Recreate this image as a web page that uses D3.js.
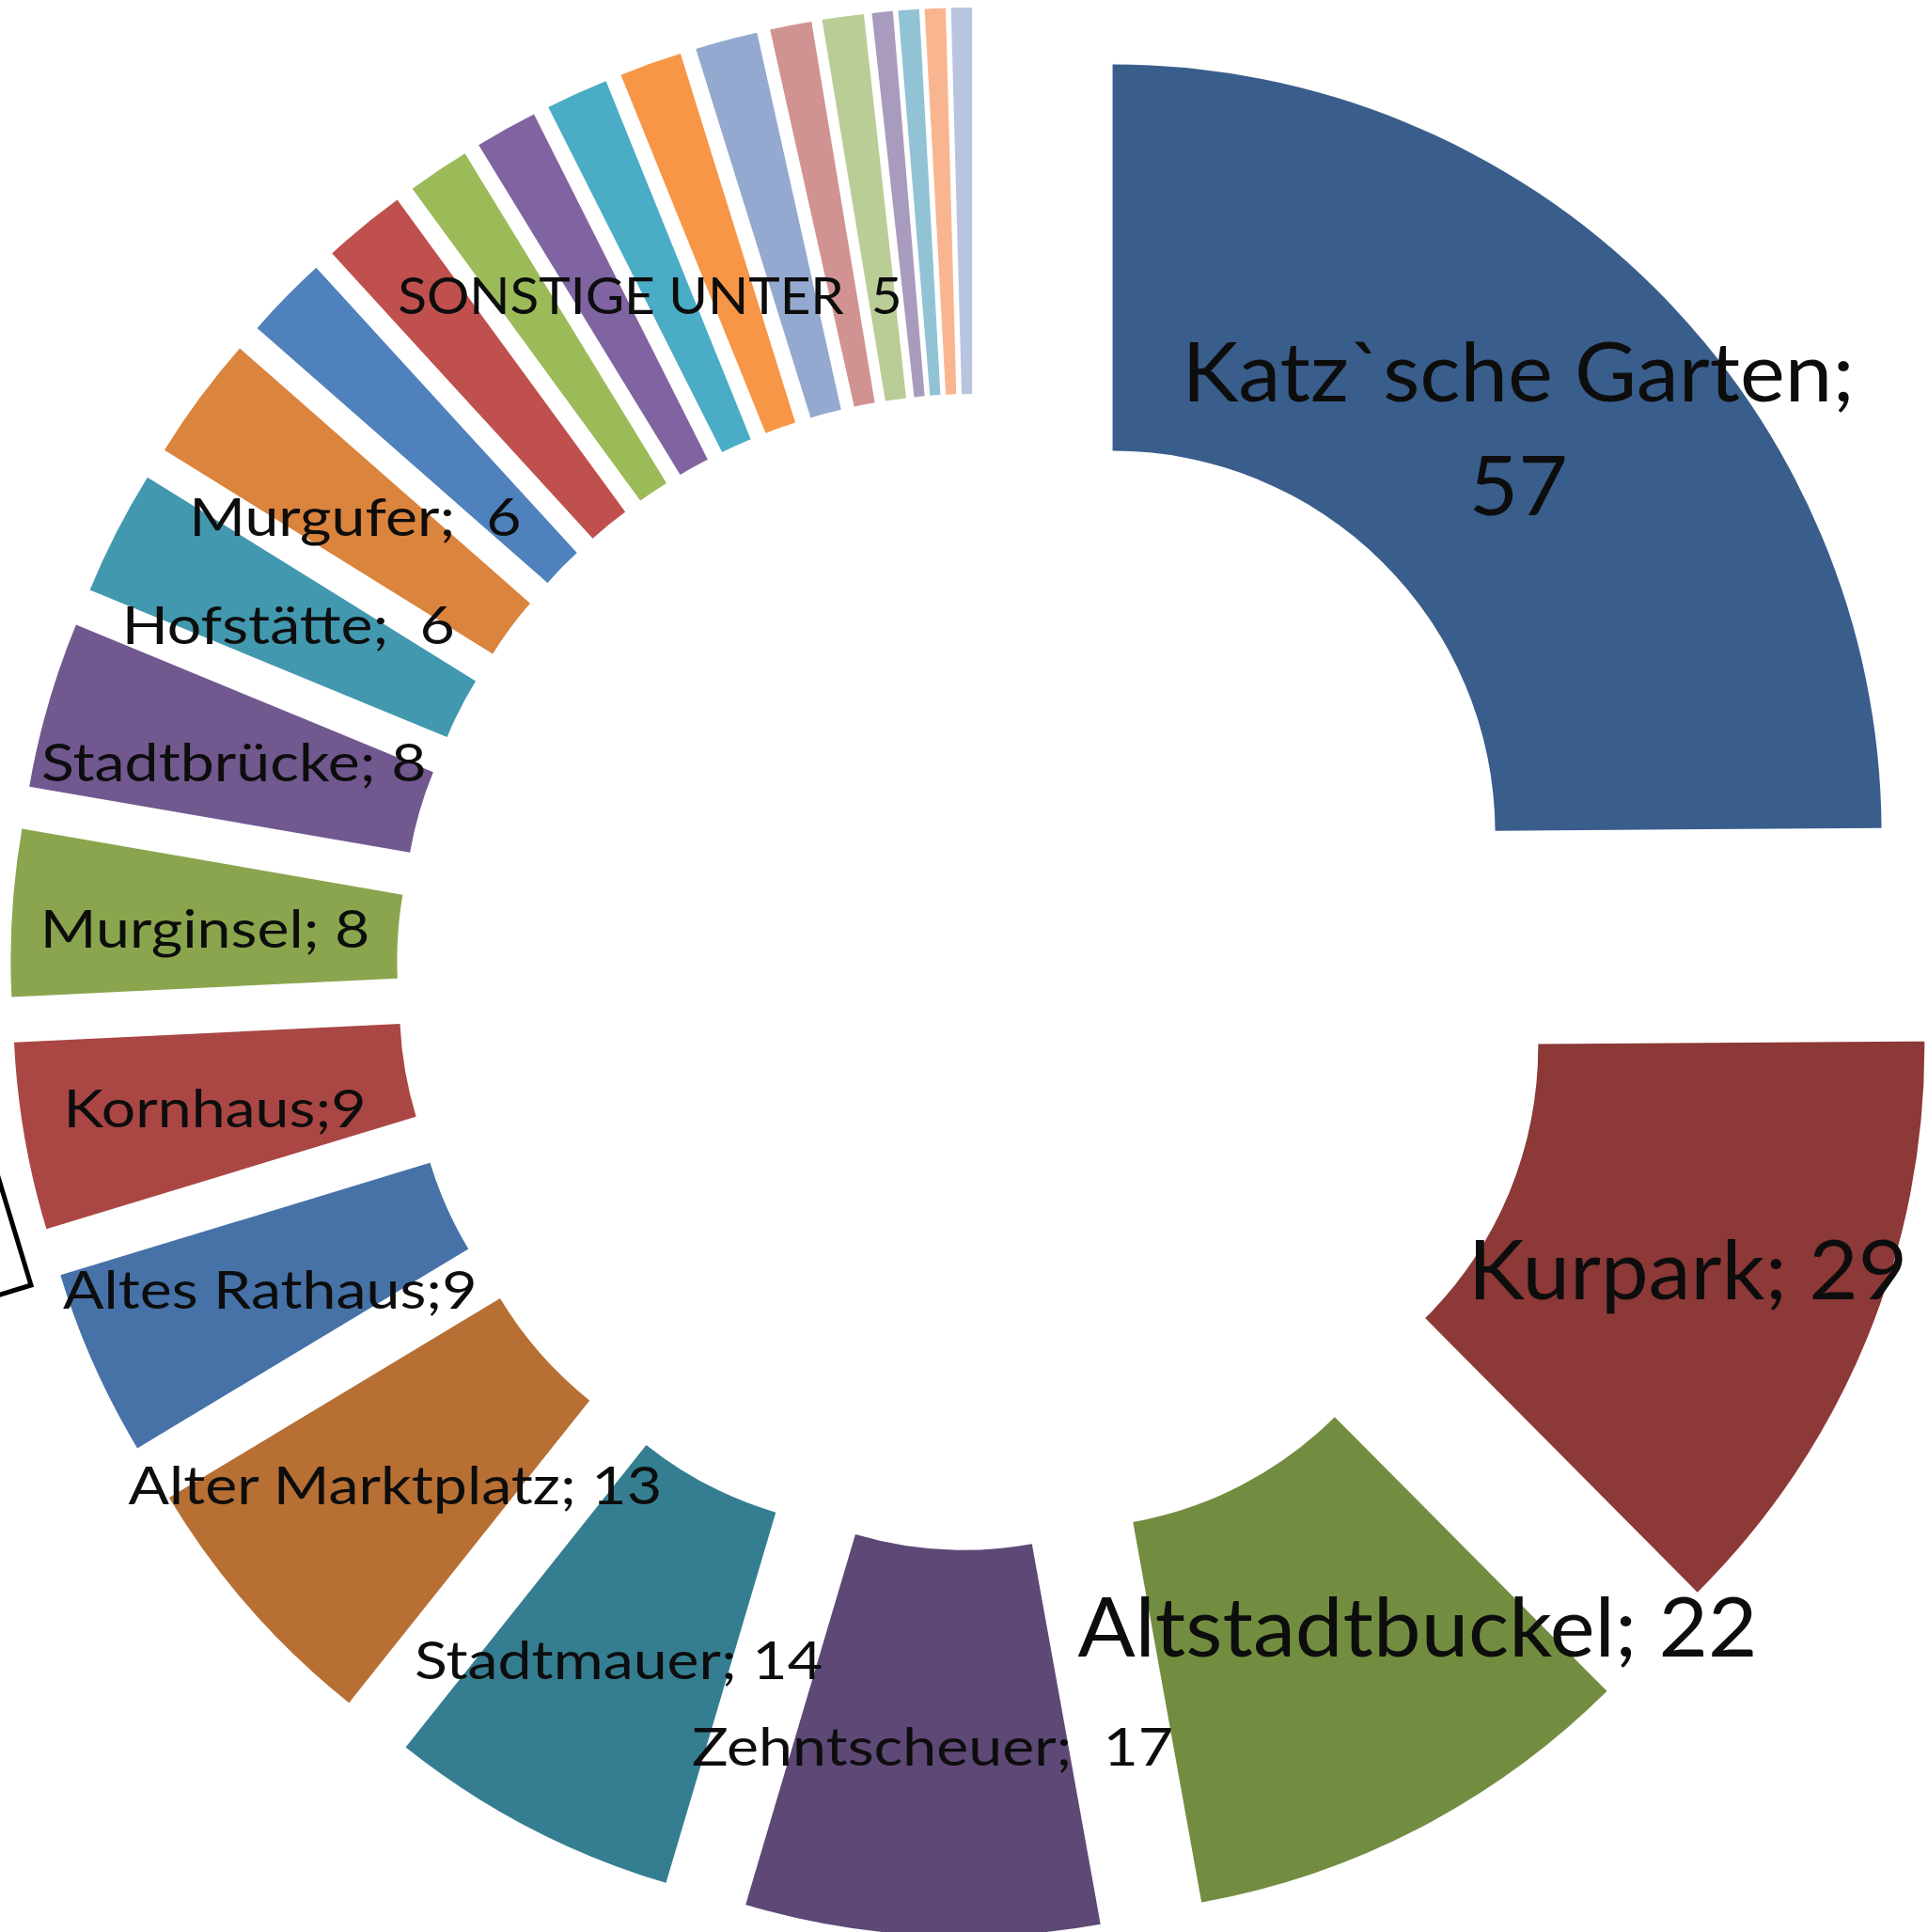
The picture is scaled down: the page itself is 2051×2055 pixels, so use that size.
<!DOCTYPE html>
<html>
<head>
<meta charset="utf-8">
<script src="https://cdn.jsdelivr.net/npm/d3@7"></script>
<style>
  html, body { margin: 0; padding: 0; background: #fff; overflow: hidden; }
  svg { display: block; }
  text { font-family: Lato, 'Open Sans', sans-serif; fill: #0d0d0d; white-space: pre; }
</style>
</head>
<body>
<script>
'use strict';

// named places with their counts
const places = ['Katz`sche Garten', 'Kurpark', 'Altstadtbuckel', 'Zehntscheuer', 'Stadtmauer',
  'Alter Marktplatz', 'Altes Rathaus', 'Kornhaus', 'Murginsel', 'Stadtbrücke', 'Hofstätte', 'Murgufer'];
const visits = [57, 29, 22, 17, 14, 13, 9, 9, 8, 8, 6, 6];
// label separators as typed in the source sheet
const labelSeps = [';', '; ', '; ', ';  ', '; ', '; ', ';', ';', '; ', '; ', ';  ', ';  '];

// everything under 5, not labelled one by one
const otherVisits = [4, 4, 3, 3, 3, 3, 3, 2, 2, 1, 1, 1, 1];
const otherLabel = 'SONSTIGE UNTER  5';

const colors = [
  '#3a5e8c', '#8c3937', '#738d40', '#5d4876', '#357e91', '#b76f33',
  '#4672a7', '#aa4744', '#8aa54e', '#71588f', '#4298af', '#db843d',
  '#4f81bd', '#c0504d', '#9bbb59', '#8064a2', '#4bacc6', '#f79646',
  '#94a9cf', '#d19392', '#bacd96', '#a99bbd', '#92c3d5', '#f9b590', '#b9c5df'
];

const width = 2051;
const height = 2055;
const cx = 1037;
const cy = 1034;
const innerR = 407;
const outerR = 818;
const explode = 208;
const bigFont = 87;
const smallFont = 57;
// the original labels run a bit wider than Lato does
const bigStretch = 1.04;
const smallStretch = 1.13;
const otherStretch = 1.03;

// labels that were dragged off their slice in the original
const labelNudge = {'Altstadtbuckel': [92, -35]};
const otherNudge = [-7, 23];

const rows = places.map(function(p, i) {
  return {name: p, value: visits[i], sep: labelSeps[i]};
}).concat(otherVisits.map(function(v) {
  return {name: null, value: v};
}));

const pie = d3.pie().sort(null).value(function(d) { return d.value; });
const arcs = pie(rows);
const arc = d3.arc().innerRadius(innerR).outerRadius(outerR);
const color = d3.scaleOrdinal().domain(d3.range(rows.length)).range(colors);

function shift(a) {
  const m = (a.startAngle + a.endAngle) / 2;
  return [explode * Math.sin(m), -explode * Math.cos(m)];
}

function stretch(sel, k) {
  const w = sel.node().getComputedTextLength();
  sel.attr('textLength', w * k).attr('lengthAdjust', 'spacingAndGlyphs');
}

const svg = d3.select('body').append('svg')
  .attr('width', width)
  .attr('height', height);

const chart = svg.append('g')
  .attr('transform', 'translate(' + cx + ',' + cy + ')');

chart.selectAll('path.slice')
  .data(arcs)
  .join('path')
  .attr('class', 'slice')
  .attr('transform', function(d) { return 'translate(' + shift(d) + ')'; })
  .attr('d', arc)
  .attr('fill', function(d, i) { return color(i); });

function labelPos(d, nudge) {
  const s = shift(d);
  const c = arc.centroid(d);
  const n = nudge || [0, 0];
  return [s[0] + c[0] + n[0], s[1] + c[1] + n[1]];
}

const named = arcs.filter(function(d) { return d.data.name; });

named.forEach(function(d) {
  const big = d.data.value >= 20;
  const fs = big ? bigFont : smallFont;
  const k = big ? bigStretch : smallStretch;
  const p = labelPos(d, labelNudge[d.data.name]);
  const t = chart.append('text')
    .attr('text-anchor', 'middle')
    .style('font-size', fs + 'px');
  if (d.data.value >= 50) {
    // wide label wraps onto two lines
    const gap = 121;
    const y0 = p[1] + 4 - gap / 2 + 0.36 * fs;
    stretch(t.append('tspan').attr('x', p[0]).attr('y', y0).text(d.data.name + ';'), k);
    stretch(t.append('tspan').attr('x', p[0]).attr('y', y0 + gap).text(d.data.value), k);
  } else {
    t.attr('x', p[0]).attr('y', p[1] + 4 + 0.36 * fs)
      .text(d.data.name + d.data.sep + d.data.value);
    stretch(t, k);
  }
});

// one label for the whole group of small slices
const others = arcs.filter(function(d) { return !d.data.name; });
const group = {
  startAngle: others[0].startAngle,
  endAngle: others[others.length - 1].endAngle
};
const gp = labelPos(group, otherNudge);
const otherText = chart.append('text')
  .attr('text-anchor', 'middle')
  .attr('x', gp[0])
  .attr('y', gp[1] + 4 + 0.36 * smallFont)
  .style('font-size', (smallFont - 2) + 'px')
  .text(otherLabel);
stretch(otherText, otherStretch);

// corner of a tilted frame poking in from the left edge
svg.append('g')
  .attr('transform', 'translate(33,1367) rotate(-16.9)')
  .append('rect')
  .attr('x', -500)
  .attr('y', -400)
  .attr('width', 500)
  .attr('height', 400)
  .attr('fill', 'none')
  .attr('stroke', '#000')
  .attr('stroke-width', 5);
</script>
</body>
</html>
